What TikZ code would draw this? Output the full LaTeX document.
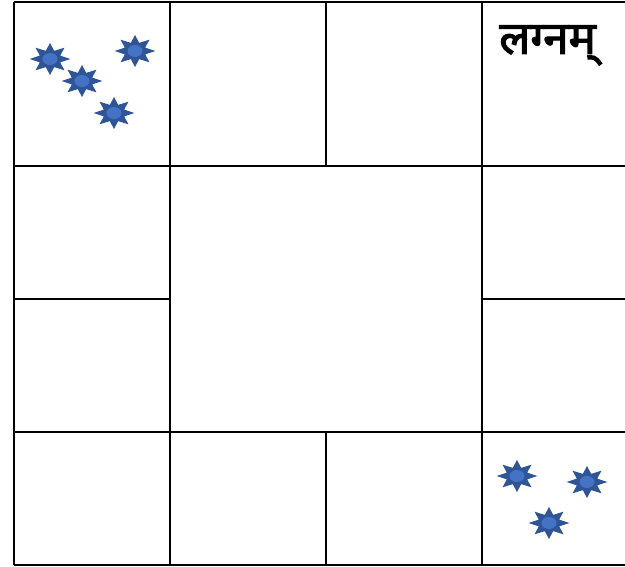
\documentclass[tikz,border=0pt]{standalone}
\usepackage{fontspec}
\newfontfamily\devfont[Script=Devanagari, AutoFakeBold=2.5]{Noto Sans}
\usepackage{xcolor}

\definecolor{stardark}{HTML}{2F5597}
\definecolor{starcore}{HTML}{4472C4}

\tikzset{
    planet/.pic={
        \fill[stardark] (0:20.5 and 16)
            \foreach \a in {1,...,15} { -- ({\a*22.5}:{ifthenelse(isodd(\a),11,20.5)} and {ifthenelse(isodd(\a),8.8,16)}) } -- cycle;
        \fill[starcore] (0,0) ellipse (7.5 and 6);
    }
}

\begin{document}
\begin{tikzpicture}[x=0.02cm, y=-0.02cm,
        gridline/.style={line width=1.4pt, black},
        label/.style={font=\devfont\bfseries\fontsize{26}{30}\selectfont, inner sep=0pt, anchor=north west}
    ]
    \useasboundingbox (0,0) rectangle (625,567);

    % --- Grid ---
    \foreach \y in {2,166,432,565}
        \draw[gridline] (14,\y) -- (625,\y);
    \draw[gridline] (14,299) -- (170,299);
    \draw[gridline] (482,299) -- (625,299);
    \foreach \x in {14,170,482}
        \draw[gridline] (\x,2) -- (\x,565);
    \draw[gridline] (326,2) -- (326,166);
    \draw[gridline] (326,432) -- (326,565);

    % --- Label ---
    \node[label] (lagnam) at (499,25) {\devfont लग्नम्};

    % --- Planets, top left ---
    \pic (p1) at (50,59) {planet};
    \pic (p2) at (82,81) {planet};
    \pic (p3) at (135,51) {planet};
    \pic (p4) at (114,113) {planet};

    % --- Planets, bottom right ---
    \pic (p5) at (517,476) {planet};
    \pic (p6) at (587,482) {planet};
    \pic (p7) at (549,523) {planet};

\end{tikzpicture}
\end{document}
